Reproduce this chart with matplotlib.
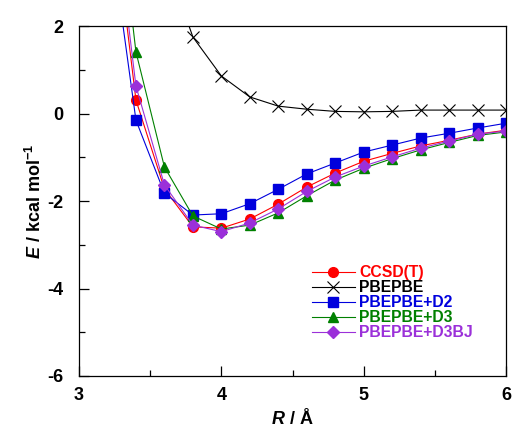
import numpy as np
import matplotlib
matplotlib.use("Agg")
import matplotlib.pyplot as plt
from matplotlib.ticker import MultipleLocator

plt.rcParams['font.family'] = 'Liberation Sans'
plt.rcParams['font.weight'] = 'bold'
plt.rcParams['axes.labelweight'] = 'bold'
plt.rcParams['axes.unicode_minus'] = False
plt.rcParams['mathtext.fontset'] = 'custom'
plt.rcParams['mathtext.rm'] = 'Liberation Sans:bold'
plt.rcParams['mathtext.it'] = 'Liberation Sans:bold:italic'
plt.rcParams['mathtext.bf'] = 'Liberation Sans:bold'

# distances (Angstrom)
R = [3.2, 3.4, 3.6, 3.8, 4.0, 4.2, 4.4, 4.6, 4.8, 5.0, 5.2, 5.4, 5.6, 5.8, 6.0]
R_pbe = R[2:]

# interaction energies (kcal/mol)
ccsdt = [5.7, 0.31, -1.72, -2.59, -2.62, -2.41, -2.07, -1.68, -1.36, -1.09, -0.91, -0.74, -0.61, -0.47, -0.38]
pbepbe = [3.6, 1.75, 0.86, 0.38, 0.17, 0.10, 0.05, 0.04, 0.05, 0.08, 0.08, 0.08, 0.08]
d2 = [4.6, -0.15, -1.82, -2.32, -2.29, -2.06, -1.73, -1.38, -1.13, -0.88, -0.72, -0.56, -0.45, -0.33, -0.22]
d3 = [7.0, 1.41, -1.22, -2.34, -2.64, -2.55, -2.27, -1.88, -1.52, -1.25, -1.03, -0.83, -0.66, -0.50, -0.42]
d3bj = [6.0, 0.63, -1.63, -2.55, -2.70, -2.50, -2.18, -1.78, -1.45, -1.20, -0.99, -0.79, -0.63, -0.47, -0.40]

labels = ['CCSD(T)', 'PBEPBE', 'PBEPBE+D2', 'PBEPBE+D3', 'PBEPBE+D3BJ']
colors = ['#ff0000', '#000000', '#0000dd', '#008000', '#9b30d9']

fig = plt.figure(figsize=(5.18, 4.28), dpi=100)
ax = fig.add_axes([0.1525, 0.1215, 0.8245, 0.8175])

ax.plot(R, ccsdt, '-o', color=colors[0], lw=0.8, ms=7, label=labels[0])
ax.plot(R_pbe, pbepbe, '-x', color=colors[1], lw=0.8, ms=8, mew=0.8, label=labels[1])
ax.plot(R, d2, '-s', color=colors[2], lw=0.8, ms=7, label=labels[2])
ax.plot(R, d3, '-^', color=colors[3], lw=0.8, ms=7, label=labels[3])
ax.plot(R, d3bj, '-D', color=colors[4], lw=0.8, ms=6, label=labels[4])

ax.set_xlim(3, 6)
ax.set_ylim(-6, 2)
ax.xaxis.set_major_locator(MultipleLocator(1))
ax.xaxis.set_minor_locator(MultipleLocator(0.5))
ax.yaxis.set_major_locator(MultipleLocator(2))
ax.yaxis.set_minor_locator(MultipleLocator(1))
ax.tick_params(which='both', direction='in', top=False, right=False, labelsize=13, width=0.9)
ax.tick_params(which='major', length=7, pad=8)
ax.tick_params(which='minor', length=4)
ax.tick_params(axis='y', pad=11)
for s in ax.spines.values():
    s.set_linewidth(0.9)

ax.set_xlabel(r'$R$ / Å', fontsize=13, labelpad=3)
ax.set_ylabel(r'$E$ / kcal mol$^{-1}$', fontsize=13, labelpad=2)

leg = ax.legend(loc='upper left', bbox_to_anchor=(0.546, 0.317), frameon=False,
                fontsize=11.3, handlelength=2.7, handletextpad=0.3,
                labelspacing=0.0, borderpad=0, borderaxespad=0)
for t, c in zip(leg.get_texts(), colors):
    t.set_color(c)

fig.savefig('out.png', dpi=100)
